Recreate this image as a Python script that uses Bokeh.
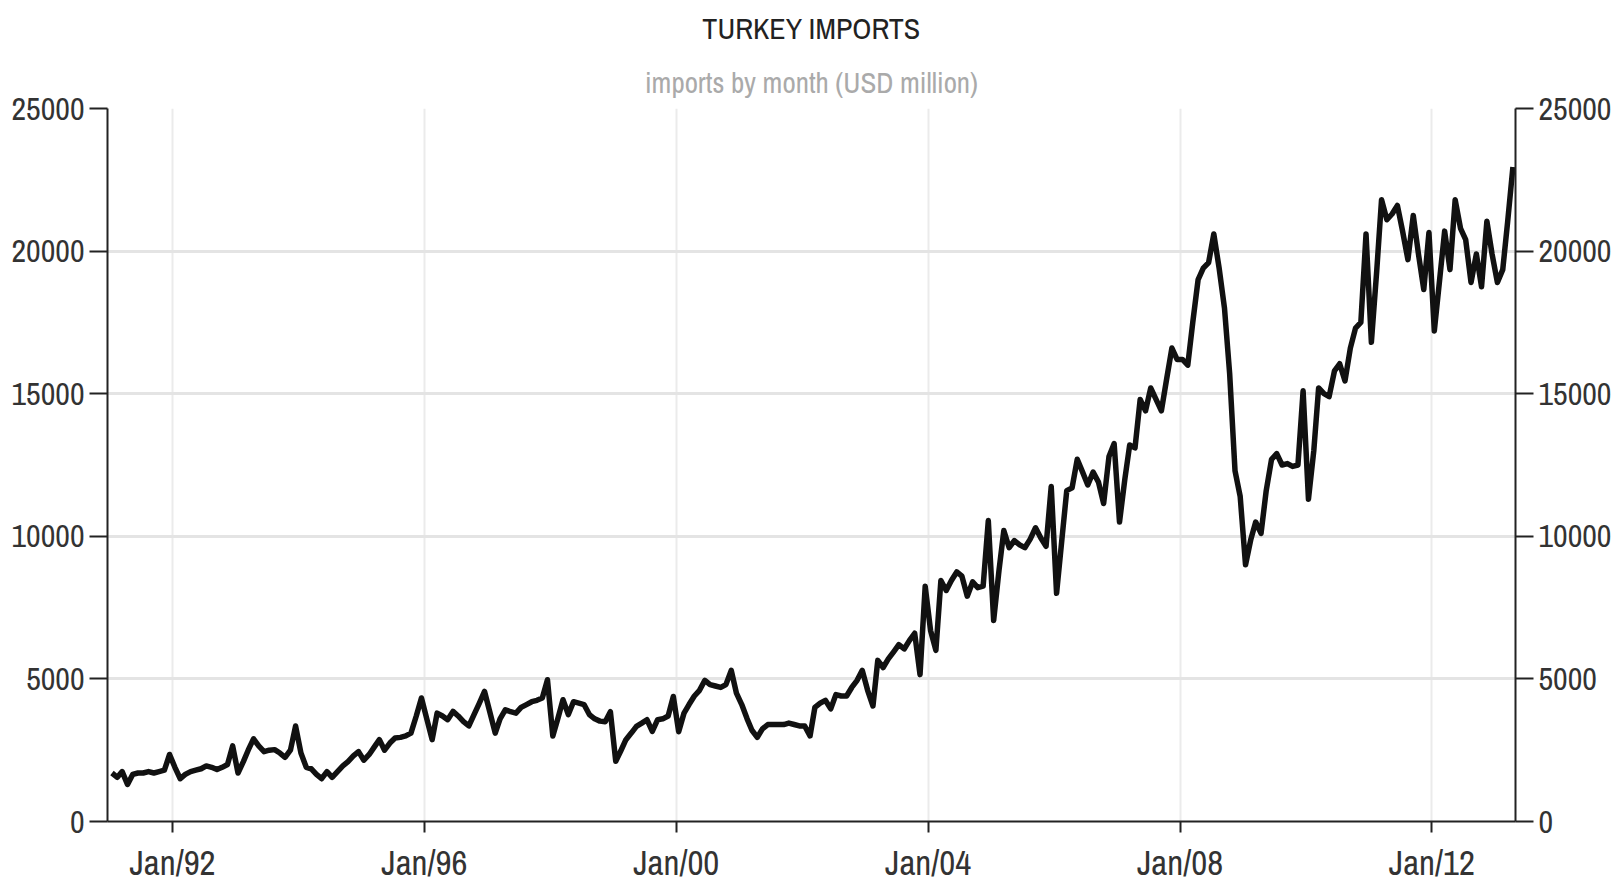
import pandas as pd
from bokeh.plotting import figure
from bokeh.models import (ColumnDataSource, Range1d, LinearAxis, FixedTicker,
                          DatetimeTickFormatter, Title)
from bokeh.embed import file_html
from bokeh.resources import INLINE

title_text = "TURKEY IMPORTS"
subtitle_text = "imports by month (USD million)"

# monthly imports, USD million
imports_1991 = [1700, 1550, 1750, 1300, 1650, 1700, 1700, 1750, 1700, 1750, 1800, 2350]
imports_1992 = [1900, 1500, 1650, 1750, 1800, 1850, 1950, 1900, 1820, 1900, 2000, 2650]
imports_1993 = [1700, 2100, 2500, 2900, 2650, 2450, 2500, 2520, 2400, 2250, 2500, 3350]
imports_1994 = [2400, 1900, 1850, 1650, 1500, 1750, 1550, 1750, 1950, 2100, 2300, 2450]
imports_1995 = [2150, 2350, 2600, 2870, 2500, 2750, 2930, 2950, 3000, 3100, 3700, 4330]
imports_1996 = [3600, 2870, 3800, 3700, 3570, 3860, 3700, 3500, 3350, 3750, 4150, 4560]
imports_1997 = [3830, 3100, 3600, 3920, 3850, 3800, 4000, 4100, 4200, 4250, 4330, 4970]
imports_1998 = [3000, 3650, 4270, 3750, 4200, 4150, 4100, 3750, 3600, 3520, 3500, 3850]
imports_1999 = [2110, 2500, 2870, 3100, 3336, 3450, 3570, 3160, 3570, 3600, 3700, 4385]
imports_2000 = [3150, 3800, 4100, 4400, 4600, 4950, 4800, 4750, 4700, 4800, 5300, 4500]
imports_2001 = [4100, 3600, 3200, 2950, 3250, 3400, 3400, 3400, 3400, 3450, 3400, 3350]
imports_2002 = [3350, 3000, 4000, 4150, 4250, 3950, 4450, 4400, 4400, 4700, 4950, 5300]
imports_2003 = [4600, 4050, 5650, 5400, 5700, 5950, 6200, 6050, 6350, 6600, 5150, 8250]
imports_2004 = [6700, 6000, 8450, 8100, 8450, 8750, 8600, 7900, 8400, 8200, 8250, 10550]
imports_2005 = [7050, 8800, 10200, 9600, 9850, 9700, 9600, 9900, 10300, 9950, 9650, 11750]
imports_2006 = [8000, 9900, 11600, 11700, 12700, 12250, 11800, 12250, 11900, 11150, 12800, 13250]
imports_2007 = [10500, 12000, 13200, 13100, 14800, 14400, 15200, 14800, 14400, 15500, 16600, 16200]
imports_2008 = [16200, 16000, 17500, 19000, 19400, 19600, 20600, 19400, 18000, 15700, 12300, 11400]
imports_2009 = [9000, 9900, 10500, 10100, 11600, 12700, 12900, 12500, 12550, 12450, 12500, 15100]
imports_2010 = [11300, 13000, 15200, 15000, 14900, 15800, 16050, 15450, 16600, 17300, 17500, 20600]
imports_2011 = [16800, 19300, 21800, 21100, 21300, 21600, 20700, 19700, 21250, 19900, 18650, 20650]
imports_2012 = [17200, 19000, 20700, 19350, 21800, 20800, 20400, 18900, 19900, 18750, 21050, 19900]
imports_2013 = [18900, 19350, 21000, 22950]

imports = (imports_1991 + imports_1992 + imports_1993 + imports_1994 + imports_1995
           + imports_1996 + imports_1997 + imports_1998 + imports_1999 + imports_2000
           + imports_2001 + imports_2002 + imports_2003 + imports_2004 + imports_2005
           + imports_2006 + imports_2007 + imports_2008 + imports_2009 + imports_2010
           + imports_2011 + imports_2012 + imports_2013)

months = pd.date_range("1991-01-01", periods=len(imports), freq="MS") + pd.Timedelta(days=14)

x_tick_years = [1992, 1996, 2000, 2004, 2008, 2012]
y_ticks = [0, 5000, 10000, 15000, 20000, 25000]

FONT = "Archivo Narrow"

src = ColumnDataSource(data=dict(month=months, value=imports))
x_ticks_ms = [pd.Timestamp(f"{y}-01-01").value // 10**6 for y in x_tick_years]

p = figure(width=1614, height=888, x_axis_type="datetime",
           output_backend="svg", toolbar_location=None, title=None,
           x_range=Range1d(pd.Timestamp("1990-12-20"), pd.Timestamp("2013-04-30")),
           y_range=Range1d(0, 25000),
           min_border_left=107, min_border_right=97, min_border_top=108,
           min_border_bottom=66)
p.background_fill_color = "white"
p.border_fill_color = "white"
p.outline_line_color = None

p.line(x="month", y="value", source=src, line_width=5.5, line_color="#111111",
       line_join="round")

fmt = "%b/%y"
p.xaxis.ticker = FixedTicker(ticks=x_ticks_ms)
p.xaxis.formatter = DatetimeTickFormatter(years=fmt, months=fmt, days=fmt, hours=fmt,
                                          hourmin=fmt, minutes=fmt, minsec=fmt,
                                          seconds=fmt, milliseconds=fmt,
                                          microseconds=fmt)
p.xgrid.ticker = FixedTicker(ticks=x_ticks_ms)
p.xgrid.grid_line_color = "#ebebeb"
p.xgrid.grid_line_width = 2
p.yaxis.ticker = FixedTicker(ticks=y_ticks)
p.ygrid.ticker = FixedTicker(ticks=y_ticks)
p.ygrid.grid_line_color = "#e4e4e4"
p.ygrid.grid_line_width = 3

right_axis = LinearAxis(ticker=FixedTicker(ticks=y_ticks))
p.add_layout(right_axis, "right")

for ax in p.yaxis:
    ax.major_tick_out = 18
    ax.major_tick_in = 0
    ax.major_label_standoff = 5
    ax.major_label_text_font_size = "32px"

p.xaxis.major_tick_out = 11
p.xaxis.major_tick_in = 0
p.xaxis.major_label_standoff = 6
p.xaxis.major_label_text_font_size = "35px"

for ax in p.xaxis + p.yaxis:
    ax.axis_line_color = "#222222"
    ax.axis_line_width = 2
    ax.major_tick_line_color = "#222222"
    ax.major_tick_line_width = 2
    ax.minor_tick_line_color = None
    ax.major_label_text_color = "#333333"
    ax.major_label_text_font = FONT

p.add_layout(Title(text=subtitle_text, align="center", text_font_size="29px",
                   text_color="#aaaaaa", text_font=FONT, text_font_style="normal",
                   standoff=14),
             "above")
p.add_layout(Title(text=title_text, align="center", text_font_size="30px",
                   text_color="#222222", text_font=FONT, text_font_style="normal",
                   standoff=11),
             "above")

open("out.html", "w").write(file_html(p, INLINE))
